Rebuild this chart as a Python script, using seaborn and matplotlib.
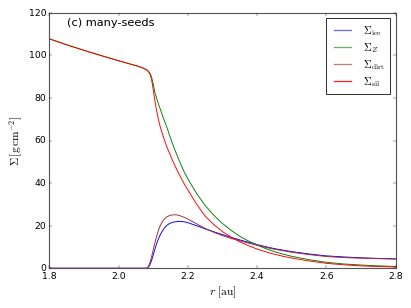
import matplotlib
matplotlib.use("Agg")
import matplotlib.pyplot as plt
from matplotlib.lines import Line2D
import seaborn as sns

# radius grid [au]
r = [1.8, 1.85, 1.9, 1.95, 2.0, 2.03, 2.05, 2.06, 2.07, 2.075, 2.08,
     2.085, 2.09, 2.095, 2.1, 2.105, 2.11, 2.115, 2.12, 2.125, 2.13,
     2.135, 2.14, 2.145, 2.15, 2.155, 2.16, 2.165, 2.17, 2.175, 2.18,
     2.19, 2.2,
     2.225, 2.25, 2.275, 2.3, 2.325, 2.35, 2.375, 2.4, 2.425, 2.45, 2.475, 2.5,
     2.55, 2.6, 2.65, 2.7, 2.75, 2.8]

sigma_ice = [0, 0, 0, 0, 0, 0, 0, 0, 0, 0, 0,
             0.3, 1.4, 3.5, 6.2, 9.0, 11.6, 13.8, 15.6, 17.1, 18.4,
             19.4, 20.2, 20.8, 21.2, 21.5, 21.7, 21.85, 21.95, 22.0, 22.0,
             21.8, 21.4,
             20.0, 18.5, 17.1, 15.8, 14.5, 13.3, 12.2, 11.1, 10.1, 9.2, 8.5, 7.8,
             6.7, 5.8, 5.3, 4.9, 4.6, 4.4]

sigma_Z = [107.8, 105.0, 102.4, 99.9, 97.5, 96.1, 95.2, 94.7, 94.1, 93.7, 93.3,
           92.7, 91.8, 90.0, 86.6, 82.4, 79.8, 77.3, 74.9, 72.6, 70.3,
           68.1, 66.0, 63.5, 61.2, 58.9, 56.7, 54.6, 52.6, 50.6, 48.7,
           45.1, 42.0,
           35.2, 29.5, 24.9, 21.0, 17.8, 15.0, 12.8, 10.9, 9.2, 7.8, 6.6, 5.6,
           4.0, 2.8, 2.0, 1.5, 1.1, 0.8]

sigma_dirt = [0, 0, 0, 0, 0, 0, 0, 0, 0, 0, 0,
              0.5, 2.3, 5.2, 8.6, 12.0, 15.1, 17.8, 19.9, 21.5, 22.7,
              23.6, 24.2, 24.6, 24.9, 25.05, 25.1, 25.1, 25.0, 24.8, 24.5,
              23.9, 23.1,
              20.9, 18.7, 16.9, 15.3, 14.0, 12.9, 11.8, 10.8, 9.8, 8.9, 8.2, 7.5,
              6.4, 5.5, 5.0, 4.7, 4.5, 4.3]

sigma_sil = [107.8, 105.0, 102.4, 99.9, 97.5, 96.1, 95.2, 94.7, 94.1, 93.7, 93.3,
             92.7, 91.4, 89.0, 84.0, 78.6, 73.9, 70.0, 66.6, 63.9, 61.4,
             59.0, 56.8, 54.8, 53.0, 51.0, 49.2, 47.4, 45.7, 44.1, 42.5,
             39.5, 36.8,
             30.2, 24.5, 20.5, 17.2, 14.6, 12.4, 10.6, 9.0, 7.7, 6.6, 5.6, 4.8,
             3.4, 2.3, 1.6, 1.1, 0.8, 0.6]

labels = [r"$\Sigma_{\rm ice}$", r"$\Sigma_Z$", r"$\Sigma_{\rm dirt}$", r"$\Sigma_{\rm sil}$"]
colors = ["#0000ff", "#008000", "#a52a2a", "#ff0000"]
legend_colors = ["#6666ff", "#66b366", "#c07a7a", "#ff2020"]
xticks = [1.8, 2.0, 2.2, 2.4, 2.6, 2.8]
yticks = [0, 20, 40, 60, 80, 100, 120]

plt.style.use("classic")
plt.rcParams["figure.facecolor"] = "white"
plt.rcParams["savefig.facecolor"] = "white"

fig = plt.figure(figsize=(8, 6), dpi=51.4)
ax = fig.add_axes([0.12, 0.129, 0.842, 0.828])

for ys, c in zip([sigma_ice, sigma_Z, sigma_dirt, sigma_sil], colors):
    sns.lineplot(x=r, y=ys, color=c, ax=ax, linewidth=1.3, legend=False)

ax.set_xlim(1.8, 2.8)
ax.set_ylim(0, 120)
ax.set_xticks(xticks)
ax.set_yticks(yticks)
ax.set_xlabel(r"$r\ [\mathrm{au}]$", fontsize=16)
ax.set_ylabel(r"$\Sigma\,[\mathrm{g\,cm^{-2}}]$", fontsize=16)
ax.tick_params(labelsize=13)
ax.tick_params(axis="x", pad=5)
for s in ax.spines.values():
    s.set_linewidth(1.6)
    s.set_color("#555555")
ax.text(0.05, 0.96, "(c) many-seeds", transform=ax.transAxes, fontsize=16,
        va="center", ha="left")
handles = [Line2D([], [], color=c, linewidth=1.8) for c in legend_colors]
leg = ax.legend(handles, labels, loc="upper right", fontsize=15, frameon=True,
                fancybox=False, labelspacing=0.3, handlelength=2.2, borderpad=0.5)
leg.get_frame().set_edgecolor("#333333")
leg.get_frame().set_linewidth(1.4)

fig.savefig("out.png", dpi=51.4)
